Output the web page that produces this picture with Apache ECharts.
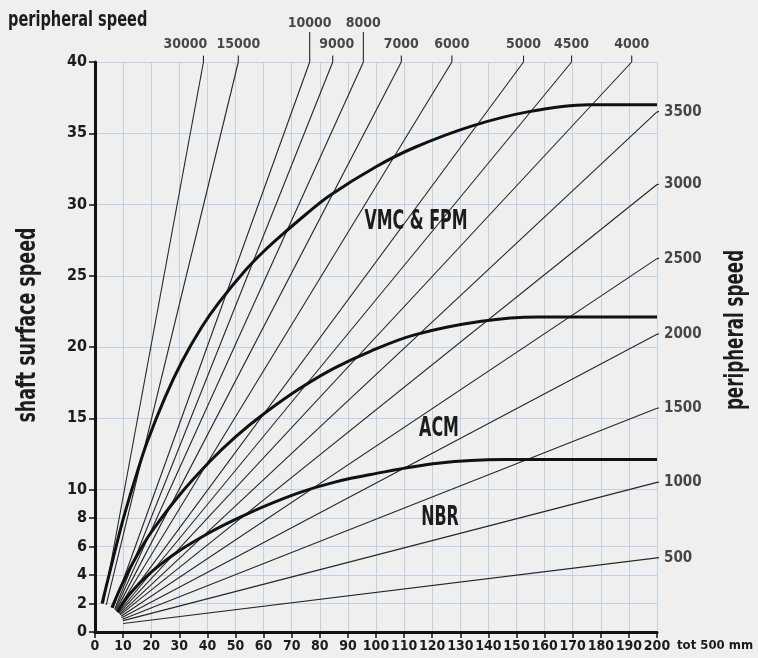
<!DOCTYPE html>
<html>
<head>
<meta charset="utf-8">
<script src="https://cdn.jsdelivr.net/npm/echarts@6/dist/echarts.min.js"></script>
<style>
html,body{margin:0;padding:0;background:#efefef;}
#c{width:758px;height:658px;}
</style>
</head>
<body>
<div id="c"></div>
<script>
// ---- data ----
const xTicks = [0,10,20,30,40,50,60,70,80,90,100,110,120,130,140,150,160,170,180,190,200];
const yTicks = [0,2,4,6,8,10,15,20,25,30,35,40];

// radial peripheral-speed lines ending at the top edge (v = 40)
const topRpm   = ['30000','15000','10000','9000','8000','7000','6000','5000','4500','4000'];
const topEndD  = [38.6, 51, 76.4, 84.6, 95.5, 109, 127, 152.5, 169.6, 191];
const topStart = [[3,2],[4,1.9],[6.5,1.7],[7,1.6],[7.2,1.55],[7.5,1.5],[7.8,1.45],[8,1.4],[8.3,1.35],[8.5,1.3]];

// radial lines ending at the right edge (d = 200)
const rightRpm   = ['3500','3000','2500','2000','1500','1000','500'];
const rightEndV  = [36.5, 31.4, 26.2, 20.9, 15.7, 10.5, 5.2];
const rightStart = [[8.8,1.25],[9,1.2],[9.3,1.1],[9.5,1.0],[9.8,0.9],[10,0.8],[10,0.6]];

// material limit curves
const vmcCurve = [[2.5,2.0],[5,4.0],[10,7.9],[15,11.2],[18.5,13.3],[25,16.5],[31,19.0],[38,21.4],[44,23.1],[53.6,25.4],[60,26.7],[66.7,27.9],[75,29.3],[83.3,30.6],[100,32.65],[113.7,34.0],[134,35.5],[154,36.5],[175.6,37.0],[200,37.0]];
const acmCurve = [[6,1.7],[10,3.5],[15,5.4],[20,7.0],[30,9.6],[41,12.0],[50,13.7],[60,15.3],[73,17.1],[85,18.5],[98,19.7],[113.7,20.85],[137.5,21.8],[157.7,22.1],[200,22.1]];
const nbrCurve = [[8,1.4],[12,2.6],[20,4.2],[30,5.7],[41,7.0],[50,7.9],[60,8.8],[73,9.8],[85,10.5],[98,11.05],[122,11.84],[145.7,12.1],[200,12.1]];

const curveNames = ['VMC & FPM','ACM','NBR'];

// ---- build ----
const FONT = "'DejaVu Sans Condensed','DejaVu Sans',sans-serif";
const TXT = '#1c1c1c';
const chart = echarts.init(document.getElementById('c'), null, {renderer:'canvas'});

const series = [];
const thin = {color:'#262626', width:1.1};
const highRow = ['10000','8000'];

topRpm.forEach((r,i)=>{
  series.push({type:'line', data:[topStart[i],[topEndD[i],40]], showSymbol:false, symbol:'none', lineStyle:thin, silent:true, z:3});
  const topV = highRow.includes(r) ? 42.1 : 40.45;
  series.push({type:'line', data:[[topEndD[i],40],[topEndD[i],topV]], showSymbol:false, symbol:'none', clip:false, lineStyle:thin, silent:true, z:3});
});
rightRpm.forEach((r,i)=>{
  series.push({type:'line', data:[rightStart[i],[200,rightEndV[i]]], showSymbol:false, symbol:'none', lineStyle:thin, silent:true, z:3});
  series.push({type:'line', data:[[200,rightEndV[i]],[201.8,rightEndV[i]+0.05]], showSymbol:false, symbol:'none', clip:false, lineStyle:thin, silent:true, z:3});
});

// labels for the radial lines
series.push({
  type:'scatter', clip:false, symbolSize:0, silent:true, z:5,
  data: topRpm.map((r,i)=>({
    value:[topEndD[i], highRow.includes(r) ? 42.1 : 40.45],
    label:{show:true, position:'top', distance: highRow.includes(r)?2:4, formatter:r,
      offset: r==='30000' ? [-18,0] : (r==='9000'?[4,0]:[0,0]),
      fontFamily:FONT, fontWeight:'bold', fontSize:14, color:TXT}
  }))
});
series.push({
  type:'scatter', clip:false, symbolSize:0, silent:true, z:5,
  data: rightRpm.map((r,i)=>({
    value:[200, rightEndV[i]],
    label:{show:true, position:'right', distance:7, formatter:r,
      fontFamily:FONT, fontWeight:'bold', fontSize:15, color:TXT}
  }))
});

[vmcCurve, acmCurve, nbrCurve].forEach((c,i)=>{
  series.push({type:'line', name:curveNames[i], data:c, smooth:0.35, showSymbol:false, symbol:'none',
    lineStyle:{color:'#111', width:3}, silent:true, z:4});
});

const option = {
  backgroundColor:'#efefef',
  animation:false,
  grid:{left:95, right:101, top:62, bottom:26, containLabel:false, outerBoundsMode:'none'},
  xAxis:{
    type:'value', min:0, max:200, interval:5,
    axisLine:{show:true, lineStyle:{color:'#111', width:3}},
    axisTick:{show:true, customValues:xTicks, length:6, lineStyle:{color:'#111', width:1.5}},
    axisLabel:{customValues:xTicks, showMaxLabel:true, showMinLabel:true, hideOverlap:false,
      fontFamily:FONT, fontWeight:'bold', fontSize:14, color:TXT, margin:7},
    splitLine:{show:true, lineStyle:{color:'#bfd1e7', width:1}}
  },
  yAxis:{
    type:'value', min:0, max:40, interval:1,
    axisLine:{show:true, lineStyle:{color:'#111', width:3}},
    axisTick:{show:true, customValues:yTicks, length:6, lineStyle:{color:'#111', width:1.5}},
    axisLabel:{customValues:yTicks, showMaxLabel:true, fontFamily:FONT, fontWeight:'bold', fontSize:16, color:TXT, margin:8},
    splitLine:{show:true, lineStyle:{color:'#bfd1e7', width:1}}
  },
  graphic:[
    {type:'text', left:8, top:9, scaleX:0.735, style:{text:'peripheral speed', font:"bold 22px "+FONT, fill:TXT}},
    {type:'text', x:28, y:325, rotation:Math.PI/2, scaleX:0.72, style:{text:'shaft surface speed', font:"bold 27px "+FONT, fill:TXT, align:'center', verticalAlign:'middle'}},
    {type:'text', x:736, y:330, rotation:Math.PI/2, scaleX:0.715, style:{text:'peripheral speed', font:"bold 26px "+FONT, fill:TXT, align:'center', verticalAlign:'middle'}},
    {type:'text', x:677, y:646, style:{text:'tot 500 mm', font:"bold 13px "+FONT, fill:TXT, align:'left', verticalAlign:'middle'}},
    {type:'text', x:416, y:222, scaleX:0.68, style:{text:'VMC & FPM', font:"bold 26px "+FONT, fill:TXT, align:'center', verticalAlign:'middle'}, z:10},
    {type:'text', x:439, y:429, scaleX:0.68, style:{text:'ACM', font:"bold 26px "+FONT, fill:TXT, align:'center', verticalAlign:'middle'}, z:10},
    {type:'text', x:440, y:518, scaleX:0.68, style:{text:'NBR', font:"bold 26px "+FONT, fill:TXT, align:'center', verticalAlign:'middle'}, z:10}
  ],
  series:series
};
chart.setOption(option);
</script>
</body>
</html>
